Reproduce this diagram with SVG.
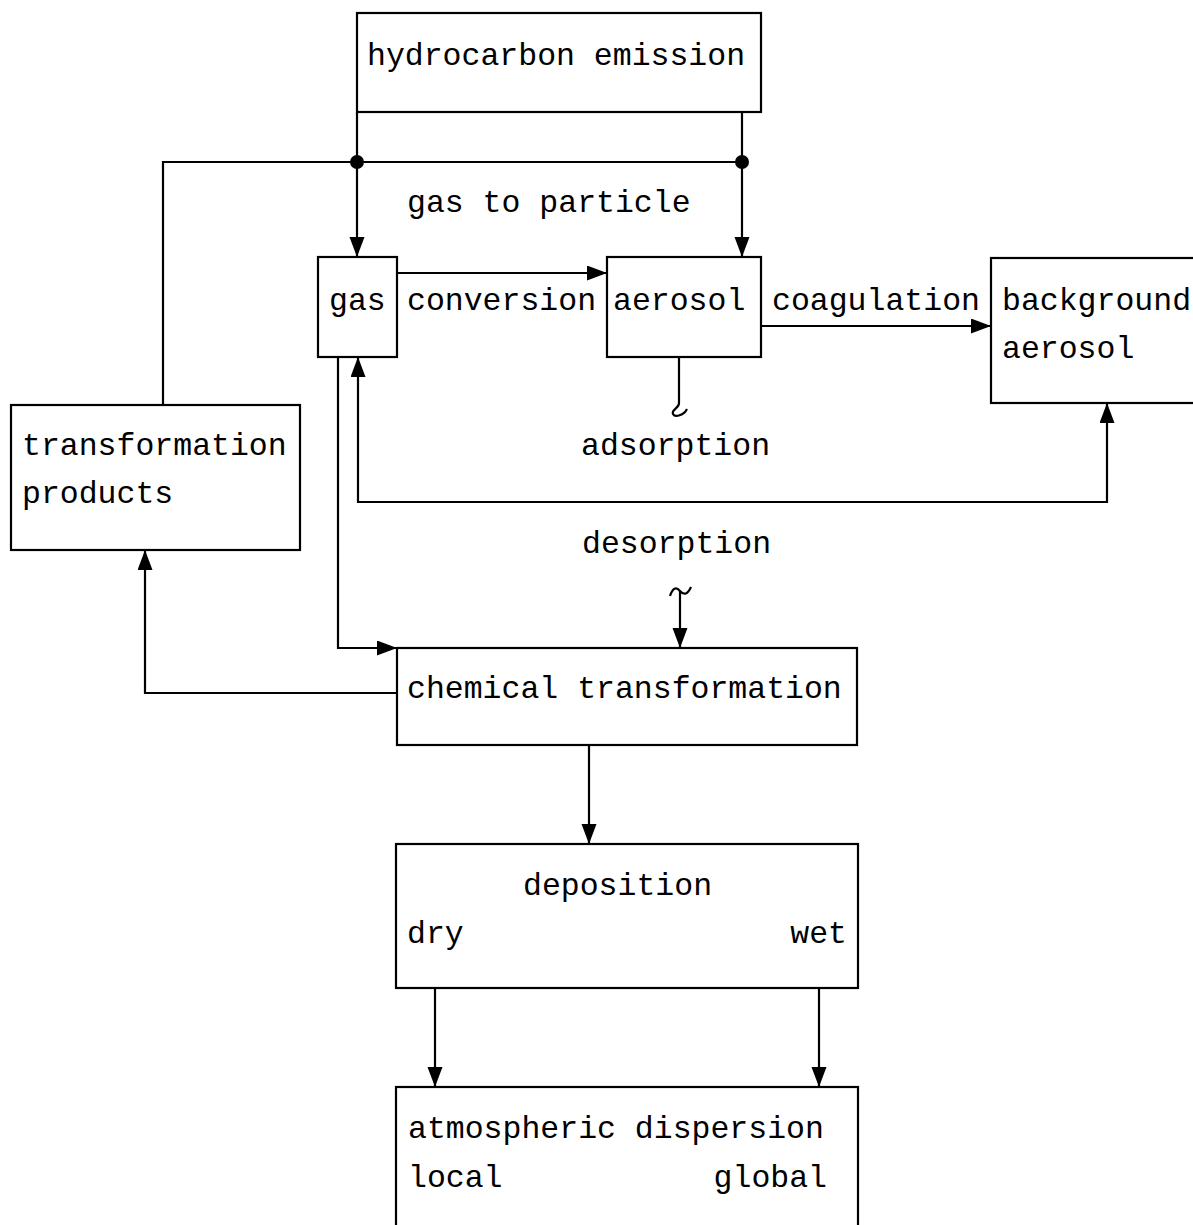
<svg xmlns="http://www.w3.org/2000/svg" width="1193" height="1225" viewBox="0 0 1193 1225">
<defs>
<style>
.box{fill:#fff;stroke:#000;stroke-width:2.2}
.t{font-family:"Liberation Mono","Courier New",monospace;font-size:31.5px;fill:#000}
.c{fill:none;stroke:#000;stroke-width:2.2}
</style>
<marker id="ah" markerUnits="userSpaceOnUse" markerWidth="22" markerHeight="16" refX="20" refY="7.5" orient="auto-start-reverse">
<path d="M0,0 L20,7.5 L0,15 z" fill="#000"/>
</marker>
</defs>
<rect width="1193" height="1225" fill="#fff"/>
<g id="connectors">
<path class="c" d="M357,112 V257" marker-end="url(#ah)"/>
<path class="c" d="M742,112 V257" marker-end="url(#ah)"/>
<path class="c" d="M163,405 V162 H742"/>
<circle cx="357" cy="162" r="7" fill="#000"/>
<circle cx="742" cy="162" r="7" fill="#000"/>
<path class="c" d="M397,273 H607" stroke-width="2.8" marker-end="url(#ah)"/>
<path class="c" d="M761,326 H991" stroke-width="2.8" marker-end="url(#ah)"/>
<path class="c" d="M679,357 V403 C679,409 671,409 673,414 C675,418 684,415 687,409" stroke-width="3"/>
<path class="c" d="M358,357 V502 H1107 V403" marker-start="url(#ah)" marker-end="url(#ah)"/>
<path class="c" d="M338,357 V648 H397" marker-end="url(#ah)"/>
<path class="c" d="M397,693 H145 V550" marker-end="url(#ah)"/>
<path class="c" d="M670,596 Q674,584 680,591 T691,587" stroke-width="3"/>
<path class="c" d="M680,591 V648" stroke-width="3" marker-end="url(#ah)"/>
<path class="c" d="M589,745 V844" marker-end="url(#ah)"/>
<path class="c" d="M435,988 V1087" marker-end="url(#ah)"/>
<path class="c" d="M819,988 V1087" marker-end="url(#ah)"/>
</g>
<g id="n-emission">
<rect class="box" x="357" y="13" width="404" height="99"/>
<text class="t" x="367" y="65">hydrocarbon emission</text>
</g>
<text class="t" x="407" y="212">gas to particle</text>
<g id="n-gas">
<rect class="box" x="318" y="257" width="79" height="100"/>
<text class="t" x="329" y="310">gas</text>
</g>
<text class="t" x="407" y="310">conversion</text>
<g id="n-aerosol">
<rect class="box" x="607" y="257" width="154" height="100"/>
<text class="t" x="613" y="310">aerosol</text>
</g>
<text class="t" x="772" y="310">coagulation</text>
<g id="n-background">
<rect class="box" x="991" y="258" width="215" height="145"/>
<text class="t" x="1002" y="310">background</text>
<text class="t" x="1002" y="358">aerosol</text>
</g>
<text class="t" x="581" y="455">adsorption</text>
<g id="n-products">
<rect class="box" x="11" y="405" width="289" height="145"/>
<text class="t" x="22" y="455">transformation</text>
<text class="t" x="22" y="503">products</text>
</g>
<text class="t" x="582" y="553">desorption</text>
<g id="n-chemical">
<rect class="box" x="397" y="648" width="460" height="97"/>
<text class="t" x="407" y="698">chemical transformation</text>
</g>
<g id="n-deposition">
<rect class="box" x="396" y="844" width="462" height="144"/>
<text class="t" x="523" y="895">deposition</text>
<text class="t" x="407" y="943">dry</text>
<text class="t" x="847" y="943" text-anchor="end">wet</text>
</g>
<g id="n-dispersion">
<rect class="box" x="396" y="1087" width="462" height="160"/>
<text class="t" x="408" y="1138">atmospheric dispersion</text>
<text class="t" x="408" y="1187">local</text>
<text class="t" x="827" y="1187" text-anchor="end">global</text>
</g>
</svg>
